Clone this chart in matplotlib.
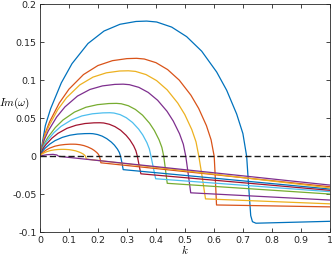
import matplotlib
matplotlib.use("Agg")
import matplotlib.pyplot as plt

# Growth-rate curves Im(omega) vs k (largest first)
k_1 = [0, 0.0184, 0.0368, 0.0736, 0.1104, 0.1656, 0.2208, 0.276, 0.3312, 0.368,
       0.4025, 0.4543, 0.506, 0.5578, 0.6095, 0.644, 0.6785, 0.700, 0.713,
       0.720, 0.727, 0.733, 0.745, 1.0]
im_1 = [0, 0.0405, 0.0629, 0.0968, 0.1220, 0.1485, 0.1649, 0.1738, 0.1775, 0.178,
        0.1768, 0.1701, 0.1575, 0.1384, 0.1110, 0.0870, 0.0557, 0.0300, 0,
        -0.040, -0.078, -0.086, -0.088, -0.0855]

k_2 = [0, 0.0167, 0.0333, 0.0666, 0.0999, 0.1499, 0.1998, 0.2498, 0.2997, 0.333,
       0.3598, 0.4, 0.4402, 0.4804, 0.5206, 0.5474, 0.5742, 0.5903, 0.601,
       0.605, 0.609, 1.0]
im_2 = [0, 0.0293, 0.0456, 0.0702, 0.0884, 0.1076, 0.1195, 0.1259, 0.1286, 0.129,
        0.1281, 0.1233, 0.1142, 0.1003, 0.0805, 0.0631, 0.0404, 0.0217, 0,
        -0.030, -0.064, -0.0665]

k_3 = [0, 0.0153, 0.0305, 0.061, 0.0915, 0.1373, 0.183, 0.2288, 0.2745, 0.305,
       0.3293, 0.3658, 0.4022, 0.4387, 0.4751, 0.4994, 0.5237, 0.5383, 0.548,
       0.560, 0.571, 1.0]
im_3 = [0, 0.0256, 0.0398, 0.0613, 0.0772, 0.0940, 0.1043, 0.1099, 0.1123, 0.1126,
        0.1118, 0.1076, 0.0997, 0.0875, 0.0702, 0.0551, 0.0352, 0.0190, 0,
        -0.028, -0.056, -0.0625]

k_4 = [0, 0.0144, 0.0287, 0.0574, 0.0861, 0.1292, 0.1722, 0.2153, 0.2583, 0.287,
       0.3086, 0.341, 0.3734, 0.4058, 0.4382, 0.4598, 0.4814, 0.4944, 0.503,
       0.512, 0.52, 1.0]
im_4 = [0, 0.0216, 0.0336, 0.0517, 0.0651, 0.0793, 0.0880, 0.0927, 0.0947, 0.095,
        0.0943, 0.0908, 0.0841, 0.0738, 0.0593, 0.0464, 0.0297, 0.0160, 0,
        -0.025, -0.048, -0.0575]

k_5 = [0, 0.0132, 0.0264, 0.0528, 0.0792, 0.1188, 0.1584, 0.198, 0.2376, 0.264,
       0.2803, 0.3048, 0.3292, 0.3537, 0.3781, 0.3944, 0.4107, 0.4205, 0.427,
       0.433, 0.439, 1.0]
im_5 = [0, 0.0158, 0.0246, 0.0379, 0.0478, 0.0582, 0.0646, 0.0680, 0.0695, 0.0697,
        0.0692, 0.0666, 0.0617, 0.0542, 0.0435, 0.0341, 0.0218, 0.0117, 0,
        -0.018, -0.0355, -0.0496]

k_6 = [0, 0.0121, 0.0241, 0.0482, 0.0723, 0.1085, 0.1446, 0.1808, 0.2169, 0.241,
       0.2552, 0.2765, 0.2978, 0.3191, 0.3404, 0.3546, 0.3688, 0.3773, 0.383,
       0.391, 0.399, 1.0]
im_6 = [0, 0.0131, 0.0203, 0.0312, 0.0394, 0.0479, 0.0532, 0.0560, 0.0572, 0.0574,
        0.0570, 0.0549, 0.0508, 0.0446, 0.0358, 0.0281, 0.0180, 0.0097, 0,
        -0.015, -0.0295, -0.0465]

k_7 = [0, 0.0104, 0.0207, 0.0414, 0.0621, 0.0932, 0.1242, 0.1553, 0.1863, 0.207,
       0.2199, 0.2393, 0.2586, 0.278, 0.2973, 0.3102, 0.3231, 0.3308, 0.336,
       0.342, 0.348, 1.0]
im_7 = [0, 0.0101, 0.0156, 0.0240, 0.0303, 0.0369, 0.0409, 0.0432, 0.0441, 0.0442,
        0.0439, 0.0422, 0.0391, 0.0344, 0.0276, 0.0216, 0.0138, 0.0074, 0,
        -0.012, -0.023, -0.0447]

k_8 = [0, 0.0086, 0.0172, 0.0344, 0.0516, 0.0774, 0.1032, 0.129, 0.1548, 0.172,
       0.1826, 0.1985, 0.2144, 0.2303, 0.2462, 0.2568, 0.2674, 0.2738, 0.278,
       0.283, 0.287, 1.0]
im_8 = [0, 0.0068, 0.0106, 0.0163, 0.0206, 0.0250, 0.0278, 0.0293, 0.0299, 0.030,
        0.0298, 0.0287, 0.0266, 0.0233, 0.0187, 0.0147, 0.0094, 0.0050, 0,
        -0.009, -0.0175, -0.043]

k_9 = [0, 0.0058, 0.0115, 0.023, 0.0345, 0.0518, 0.069, 0.0863, 0.1035, 0.115,
       0.124, 0.1375, 0.151, 0.1645, 0.178, 0.187, 0.196, 0.2014, 0.205,
       0.208, 0.21, 1.0]
im_9 = [0, 0.0036, 0.0057, 0.0087, 0.0110, 0.0134, 0.0148, 0.0156, 0.0160, 0.016,
        0.0159, 0.0153, 0.0142, 0.0124, 0.0100, 0.0078, 0.0050, 0.0027, 0,
        -0.0045, -0.0085, -0.040]

k_10 = [0, 0.0041, 0.0082, 0.0164, 0.0246, 0.0369, 0.0492, 0.0615, 0.0738, 0.082,
        0.0895, 0.1008, 0.112, 0.1233, 0.1345, 0.142, 0.1495, 0.154, 0.157,
        0.16, 1.0]
im_10 = [0, 0.0021, 0.0033, 0.0050, 0.0063, 0.0077, 0.0085, 0.0090, 0.0092, 0.0092,
         0.0091, 0.0088, 0.0081, 0.0072, 0.0057, 0.0045, 0.0029, 0.0015, 0,
         -0.0036, -0.0415]

k_11 = [0, 0.01, 0.025, 0.045, 0.058, 0.065, 1.0]
im_11 = [0, 0.0012, 0.0022, 0.0026, 0.0018, 0.0, -0.0378]

curves = [(k_1, im_1), (k_2, im_2), (k_3, im_3), (k_4, im_4), (k_5, im_5),
          (k_6, im_6), (k_7, im_7), (k_8, im_8), (k_9, im_9), (k_10, im_10),
          (k_11, im_11)]

# MATLAB default line colour order
colors = ["#0072BD", "#D95319", "#EDB120", "#7E2F8E",
          "#77AC30", "#4DBEEE", "#A2142F"]

x_ticks = [0, 0.1, 0.2, 0.3, 0.4, 0.5, 0.6, 0.7, 0.8, 0.9, 1]
x_tick_labels = ["0", "0.1", "0.2", "0.3", "0.4", "0.5", "0.6", "0.7", "0.8", "0.9", "1"]
y_ticks = [-0.1, -0.05, 0, 0.05, 0.1, 0.15, 0.2]
y_tick_labels = ["-0.1", "-0.05", "0", "0.05", "0.1", "0.15", "0.2"]

plt.rcParams["mathtext.fontset"] = "cm"
plt.rcParams["axes.unicode_minus"] = False

fig = plt.figure(figsize=(3.32, 2.57), dpi=100)
ax = fig.add_axes([0.1205, 0.096, 0.873, 0.887])

for i, (k, im) in enumerate(curves):
    ax.plot(k, im, color=colors[i % len(colors)], lw=0.9)

ax.plot([0, 1], [0, 0], color="#1a1a1a", lw=1.0, dashes=(4.5, 2.2), zorder=5)

ax.set_xlim(0, 1)
ax.set_ylim(-0.1, 0.2)
ax.set_xticks(x_ticks)
ax.set_xticklabels(x_tick_labels)
ax.set_yticks(y_ticks)
ax.set_yticklabels(y_tick_labels)
ax.tick_params(direction="in", length=3, width=0.6, top=True, right=True,
               labelsize=6.8, colors="#262626", pad=2.5)
for spine in ax.spines.values():
    spine.set_edgecolor("#262626")
    spine.set_linewidth(0.6)

ax.set_xlabel("$k$", fontsize=8, labelpad=-1)
ax.set_ylabel(r"$Im(\omega)$", fontsize=8, rotation=0, ha="center", va="center")
ax.yaxis.set_label_coords(-0.088, 0.567)

fig.savefig("out.png", dpi=100)
